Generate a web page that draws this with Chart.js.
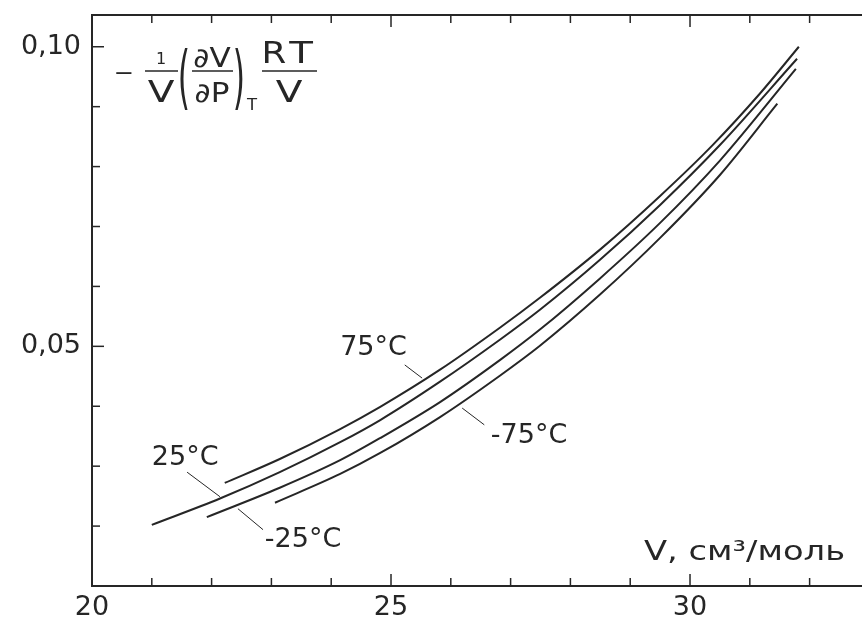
<!DOCTYPE html>
<html>
<head>
<meta charset="utf-8">
<script src="https://cdn.jsdelivr.net/npm/chart.js@4.4.1/dist/chart.umd.min.js"></script>
<style>
  html, body { margin: 0; padding: 0; background: #fff; overflow: hidden; }
  #wrap { width: 862px; height: 620px; }
  canvas { display: block; }
</style>
</head>
<body>
<div id="wrap"><canvas id="grafik" width="862" height="620"></canvas></div>
<script>
// Data: V (см³/моль) dan -1/V (dV/dP)_T RT/V

const xTicks = [20, 25, 30];
const yTicks = [0.05, 0.10];
const yTickLabels = ['0,05', '0,10'];

const v75 = [22.22, 23.14, 24.15, 24.82, 25.82, 26.82, 27.49, 28.49, 29.50, 30.37, 31.17, 31.82];
const p75 = [0.0272, 0.0312, 0.0362, 0.0399, 0.0461, 0.0531, 0.0581, 0.0661, 0.0751, 0.0835, 0.0922, 0.1000];

const v25 = [21.00, 22.14, 23.14, 24.15, 24.82, 25.82, 26.82, 27.49, 28.49, 29.50, 30.50, 31.79];
const p25 = [0.0202, 0.0246, 0.0290, 0.0340, 0.0377, 0.0441, 0.0511, 0.0561, 0.0644, 0.0736, 0.0836, 0.0980];

const vm25 = [21.92, 23.14, 24.15, 24.82, 25.82, 26.82, 27.49, 28.49, 29.50, 30.50, 31.77];
const pm25 = [0.0215, 0.0264, 0.0310, 0.0347, 0.0407, 0.0477, 0.0528, 0.0613, 0.0706, 0.0810, 0.0963];

const vm75 = [23.06, 24.15, 24.82, 25.82, 26.82, 27.49, 28.49, 29.50, 30.50, 31.46];
const pm75 = [0.0239, 0.0287, 0.0322, 0.0382, 0.0451, 0.0501, 0.0586, 0.0681, 0.0786, 0.0905];

// Label suhu: teks, posisi (V, P) dan garis penunjuk
const curveLabels = ['75°C', '25°C', '-25°C', '-75°C'];
const labelV = [24.15, 21.00, 22.89, 26.67];
const labelP = [0.0486, 0.0302, 0.0165, 0.0339];
const leaderFrom = [[25.23, 0.0469], [21.59, 0.0290], [22.44, 0.0229], [26.19, 0.0397]];
const leaderTo = [[25.52, 0.0447], [22.14, 0.0249], [22.86, 0.0194], [26.56, 0.0369]];

const ink = '#262626';
const font = 'DejaVu Sans';

function buatSeri(label, vs, ps) {
    return {
        label: label,
        data: vs.map((v, i) => ({ x: v, y: ps[i] })),
        borderColor: ink,
        borderWidth: 2,
        pointRadius: 0,
        fill: false,
        cubicInterpolationMode: 'monotone'
    };
}

// Teks dengan lebar huruf yang bisa diregangkan (huruf asli lebih lebar)
function tulis(ctx, teks, x, y, size, regang) {
    ctx.save();
    ctx.font = size + 'px "' + font + '"';
    ctx.translate(x, y);
    ctx.scale(regang || 1, 1);
    ctx.fillText(teks, 0, 0);
    ctx.restore();
}

// Garis pendek satu per satu
function garis(ctx, x1, y1, x2, y2) {
    ctx.beginPath();
    ctx.moveTo(x1, y1);
    ctx.lineTo(x2, y2);
    ctx.stroke();
}

// Plugin: bingkai atas, tick ke dalam, label, rumus
const hiasan = {
    id: 'hiasan',
    afterDatasetsDraw(chart) {
        const ctx = chart.ctx;
        const a = chart.chartArea;
        const sx = chart.scales.x, sy = chart.scales.y;
        ctx.save();
        ctx.strokeStyle = ink;
        ctx.fillStyle = ink;
        ctx.lineCap = 'butt';

        // garis atas
        ctx.lineWidth = 2;
        garis(ctx, a.left, a.top, a.right, a.top);

        // tick sumbu x (bawah dan atas)
        ctx.lineWidth = 1.5;
        for (let v = 21; v <= 32; v++) {
            const px = sx.getPixelForValue(v);
            const len = v % 5 === 0 ? 12 : 8;
            garis(ctx, px, a.bottom, px, a.bottom - len);
            garis(ctx, px, a.top, px, a.top + len);
        }
        // tick sumbu y kiri
        for (let k = 2; k <= 10; k++) {
            const py = sy.getPixelForValue(k / 100);
            const len = k % 5 === 0 ? 12 : 8;
            garis(ctx, a.left, py, a.left + len, py);
        }

        // label suhu
        ctx.textAlign = 'left';
        ctx.textBaseline = 'alphabetic';
        ctx.lineWidth = 1;
        curveLabels.forEach((t, i) => {
            tulis(ctx, t, sx.getPixelForValue(labelV[i]), sy.getPixelForValue(labelP[i]), 27);
            garis(ctx,
                sx.getPixelForValue(leaderFrom[i][0]), sy.getPixelForValue(leaderFrom[i][1]),
                sx.getPixelForValue(leaderTo[i][0]), sy.getPixelForValue(leaderTo[i][1]));
        });

        // judul sumbu x di dalam area grafik
        tulis(ctx, 'V, см³/моль', 644, 560, 27, 1.25);

        // rumus di kiri atas
        ctx.textAlign = 'center';
        tulis(ctx, '−', 124, 80, 22, 1.1);
        tulis(ctx, '1', 161, 64, 16);
        tulis(ctx, 'V', 161, 102, 30, 1.3);
        tulis(ctx, '∂V', 212, 67, 27, 1.15);
        tulis(ctx, '∂P', 212, 102, 27, 1.15);
        tulis(ctx, 'R', 274, 63, 31, 1.15);
        tulis(ctx, 'T', 301, 63, 31, 1.25);
        tulis(ctx, 'V', 289, 102, 30, 1.3);
        tulis(ctx, 'T', 252, 110, 15, 1.1);

        ctx.lineWidth = 1.5;
        garis(ctx, 145, 71, 178, 71);
        garis(ctx, 192, 71, 233, 71);
        garis(ctx, 262, 71, 317, 71);

        // kurung besar, dipersempit
        tulis(ctx, '(', 184, 101, 70, 0.45);
        tulis(ctx, ')', 239, 101, 70, 0.45);

        ctx.restore();
    }
};

const ctx = document.getElementById('grafik').getContext('2d');
window.grafik = new Chart(ctx, {
    type: 'line',
    data: {
        datasets: [
            buatSeri('75°C', v75, p75),
            buatSeri('25°C', v25, p25),
            buatSeri('-25°C', vm25, pm25),
            buatSeri('-75°C', vm75, pm75)
        ]
    },
    options: {
        responsive: false,
        animation: false,
        devicePixelRatio: 1,
        layout: { padding: { top: 15, right: 0, left: 0, bottom: 0 } },
        plugins: {
            legend: { display: false },
            tooltip: { enabled: false }
        },
        scales: {
            x: {
                type: 'linear',
                min: 20,
                max: 32.876,
                afterBuildTicks: s => { s.ticks = xTicks.map(v => ({ value: v })); },
                afterFit: s => { s.height = 34; s.paddingLeft = 0; s.paddingRight = 0; },
                ticks: {
                    color: ink,
                    font: { family: font, size: 27 },
                    padding: 6,
                    maxRotation: 0,
                    autoSkip: false,
                    callback: v => String(v)
                },
                grid: { display: false, drawTicks: false },
                border: { display: true, color: ink, width: 2 }
            },
            y: {
                type: 'linear',
                min: 0.01,
                max: 0.1053,
                afterBuildTicks: s => { s.ticks = yTicks.map(v => ({ value: v })); },
                afterFit: s => { s.width = 92; s.paddingTop = 0; s.paddingBottom = 0; },
                ticks: {
                    color: ink,
                    font: { family: font, size: 27 },
                    padding: 11,
                    autoSkip: false,
                    callback: v => yTickLabels[yTicks.indexOf(v)]
                },
                grid: { display: false, drawTicks: false },
                border: { display: true, color: ink, width: 2 }
            }
        }
    },
    plugins: [hiasan]
});
</script>
</body>
</html>
